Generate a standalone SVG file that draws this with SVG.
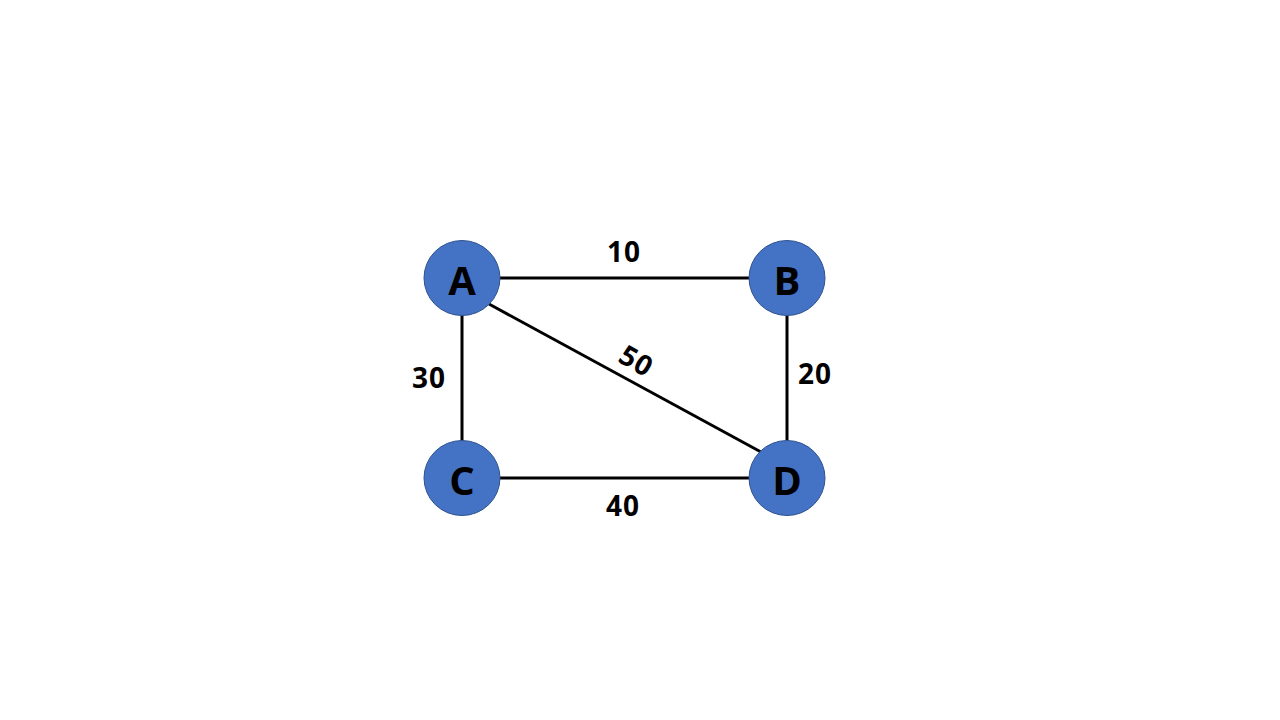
<svg xmlns="http://www.w3.org/2000/svg" width="1280" height="720" viewBox="0 0 1280 720">
<style>
.node{fill:#4472C4;stroke:#2F528F;stroke-width:1}
.nl{font-family:"Open Sans","Liberation Sans",sans-serif;font-weight:bold;font-size:40px;fill:#000;text-anchor:middle;dominant-baseline:central}
.el{font-family:"Open Sans","Liberation Sans",sans-serif;font-weight:bold;font-size:28px;letter-spacing:1px;fill:#000;text-anchor:middle;dominant-baseline:central}
.edge{stroke:#000;stroke-width:3;fill:none}
</style>
<rect width="1280" height="720" fill="#fff"/>
<g id="connectors">
<line class="edge" x1="500" y1="278" x2="749" y2="278"/>
<line class="edge" x1="462" y1="315" x2="462" y2="441"/>
<line class="edge" x1="500" y1="478" x2="749" y2="478"/>
<line class="edge" x1="787" y1="315" x2="787" y2="441"/>
<line class="edge" x1="489" y1="304" x2="761" y2="452"/>
<text class="el" x="624" y="251">10</text>
<text class="el" x="429" y="377">30</text>
<text class="el" x="815" y="373">20</text>
<text class="el" x="623" y="505">40</text>
<text class="el" x="0" y="0" transform="translate(637,360) rotate(30)">50</text>
</g>
<g id="A"><ellipse class="node" cx="462" cy="278" rx="38" ry="37.5"/><text class="nl" x="462" y="279">A</text></g>
<g id="B"><ellipse class="node" cx="787" cy="278" rx="38" ry="37.5"/><text class="nl" x="787" y="279">B</text></g>
<g id="C"><ellipse class="node" cx="462" cy="478" rx="38" ry="37.5"/><text class="nl" x="462" y="479">C</text></g>
<g id="D"><ellipse class="node" cx="787" cy="478" rx="38" ry="37.5"/><text class="nl" x="787" y="479">D</text></g>
</svg>
